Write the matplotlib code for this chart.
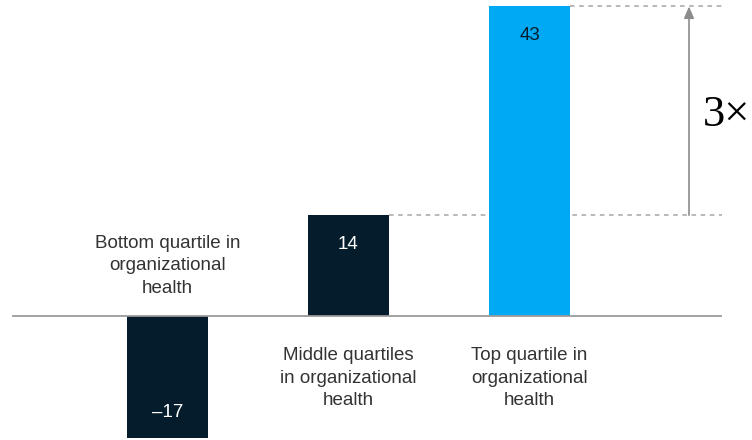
import numpy as np
import matplotlib.pyplot as plt

categories = ['Bottom quartile in\norganizational\nhealth',
              'Middle quartiles\nin organizational\nhealth',
              'Top quartile in\norganizational\nhealth']
values = [-17, 14, 43]
value_labels = ['\u201317', '14', '43']
multiple_label = '3\u00d7'

navy = '#051c2c'
blue = '#00a9f4'
textc = '#333333'

plt.rcParams['font.family'] = ['Liberation Sans', 'DejaVu Sans']

fig = plt.figure(figsize=(7.52, 4.40), dpi=100)
ax = fig.add_axes([0, 0, 1, 1])
ax.set_xlim(-0.925, 3.229)
ax.set_ylim(-124 / 7.2, 316 / 7.2)
ax.axis('off')

x = np.arange(len(values))
w = 0.45
colors = [navy, navy, blue]
ax.bar(x, values, width=w, color=colors, zorder=2)

# baseline
ax.plot([-0.855, 3.06], [0, 0], color='#9a9a9a', lw=1.3, zorder=3)

# value labels
for i, v in enumerate(values):
    tc = navy if colors[i] == blue else 'white'
    off = 4.1 if v > 0 else -3.6
    ax.text(x[i], v - off, value_labels[i], ha='center', va='center',
            color=tc, fontsize=13.5)

# category labels
for i, v in enumerate(values):
    if v < 0:
        ax.text(x[i], 2.7, categories[i], ha='center', va='bottom',
                color=textc, fontsize=13.5, linespacing=1.42)
    else:
        ax.text(x[i], -4.35, categories[i], ha='center', va='top',
                color=textc, fontsize=13.5, linespacing=1.42)

# dashed reference lines
xr = 3.064
ax.plot([x[1] + w / 2, xr], [values[1], values[1]], ls=(0, (3, 3)),
        color='#a6a6a6', lw=1.1, zorder=1)
ax.plot([x[2] + w / 2, xr], [values[2], values[2]], ls=(0, (3, 3)),
        color='#a6a6a6', lw=1.1, zorder=1)

# arrow
xa = 2.881
ax.annotate('', xy=(xa, values[2]), xytext=(xa, values[1]),
            arrowprops=dict(arrowstyle='-|>,head_length=0.7,head_width=0.3',
                            color='#8c8c8c', lw=1.2, shrinkA=0, shrinkB=0))
ax.text(2.96, (values[1] + values[2]) / 2 - 0.6, multiple_label, ha='left',
        va='center', fontsize=32, color='black', family='Liberation Serif')

fig.savefig('out.png', dpi=100)
